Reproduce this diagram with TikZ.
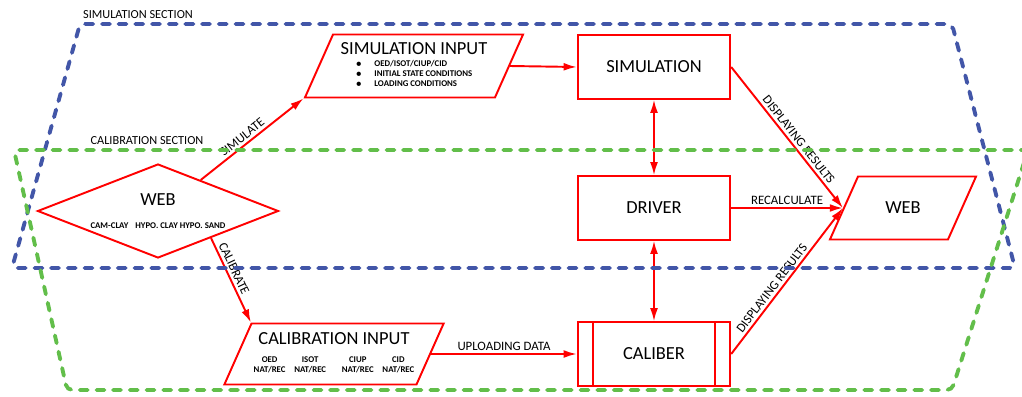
\documentclass[tikz,border=0pt]{standalone}
\usepackage{fontspec}
\setmainfont{Carlito}
\usetikzlibrary{shapes.geometric,arrows.meta}
\definecolor{simblue}{RGB}{66,86,168}
\definecolor{calgreen}{RGB}{98,190,74}
\newcommand{\titlefont}{\fontsize{10.5}{12}\selectfont}
\newcommand{\tinyfont}{\fontsize{5}{5.7}\selectfont\bfseries}
% fixed size text block, so the slanted shapes get their exact height
\newcommand{\slantbox}[3]{\parbox[c][#2][c]{#1}{\centering #3}}
\tikzset{
  box/.style={draw=red,line width=1.1pt,minimum width=3.05cm,minimum height=1.27cm,
    inner sep=0pt,font=\titlefont},
  procbox/.style={box,path picture={
      \draw[red,line width=1.1pt]
        ([xshift=0.3cm]path picture bounding box.north west) -- ([xshift=0.3cm]path picture bounding box.south west)
        ([xshift=-0.3cm]path picture bounding box.north east) -- ([xshift=-0.3cm]path picture bounding box.south east);}},
  slanted/.style={trapezium,trapezium left angle=66,trapezium right angle=114,
    draw=red,line width=1.1pt,inner sep=0pt},
  decision/.style={diamond,aspect=2.56,draw=red,line width=1.1pt,inner sep=0pt,align=center,
    minimum width=4.82cm,minimum height=1.88cm},
  flow/.style={draw=red,line width=1.1pt,-{Latex[length=7.5pt,width=4.5pt]}},
  twoway/.style={flow,{Latex[length=7.5pt,width=4.5pt]}-{Latex[length=7.5pt,width=4.5pt]}},
  edgetext/.style={font=\fontsize{7.3}{8}\selectfont,inner sep=1.5pt},
  zone/.style={line width=2.2pt,line cap=round,dash pattern=on 4.5pt off 5pt,rounded corners=3pt},
  zonetext/.style={font=\fontsize{7}{8}\selectfont,inner sep=0pt}
}
\begin{document}
\begin{tikzpicture}[x=0.02cm,y=-0.02cm]
  \useasboundingbox (0,0) rectangle (1022,396);
  \node[decision] (web) at (158,211)
    {{\titlefont WEB}\\[1pt]{\tinyfont CAM-CLAY\hspace{4pt}HYPO. CLAY HYPO. SAND}};
  \node[slanted] (siminput) at (414,66)
    {\slantbox{3.24cm}{1.26cm}{{\titlefont SIMULATION INPUT}\\[1pt]
     {\tinyfont\begin{tabular}{@{}l@{}}
       {\tiny$\bullet$}\hspace{7pt}OED/ISOT/CIUP/CID\\
       {\tiny$\bullet$}\hspace{7pt}INITIAL STATE CONDITIONS\\
       {\tiny$\bullet$}\hspace{7pt}LOADING CONDITIONS
     \end{tabular}}}};
  \node[slanted] (calinput) at (334,354)
    {\slantbox{3.3cm}{1.22cm}{{\titlefont CALIBRATION INPUT}\\[1pt]
     {\tinyfont\begin{tabular}{@{}c@{\hspace{5pt}}c@{\hspace{9pt}}c@{\hspace{5pt}}c@{}}
       OED&ISOT&CIUP&CID\\
       NAT/REC&NAT/REC&NAT/REC&NAT/REC
     \end{tabular}}}};
  \node[box] (simulation) at (654,67) {SIMULATION};
  \node[box] (driver) at (654,208) {DRIVER};
  \node[procbox] (caliber) at (654,354) {CALIBER};
  \node[slanted] (webout) at (903,208) {\slantbox{1.8cm}{1.26cm}{\titlefont WEB}};

  \begin{scope}[flow]
    \draw (web.36) to node[edgetext,sloped,above,pos=.45] {SIMULATE} (siminput.bottom left corner);
    \draw (web.-27) to node[edgetext,sloped,above,pos=.4] {CALIBRATE} (calinput.top left corner);
    \draw (siminput.east) to (simulation.west);
    \draw (calinput.east) to node[edgetext,above] {UPLOADING DATA} (caliber.west);
    \draw[twoway] (simulation.south) to (driver.north);
    \draw[twoway] (driver.south) to (caliber.north);
    \draw (simulation.east) to node[edgetext,sloped,above,pos=.55] {DISPLAYING RESULTS} (webout.west);
    \draw (driver.east) to node[edgetext,above] {RECALCULATE} (webout.west);
    \draw (caliber.east) to node[edgetext,sloped,above,pos=.42] {DISPLAYING RESULTS} (webout.west);
  \end{scope}

  \draw[zone,simblue] (80,24) -- (952,24) -- (1015,268) -- (12,268) -- cycle;
  \draw[zone,calgreen] (14,150) -- (1028,150) -- (952,390) -- (67,390) -- cycle;
  \node[zonetext] (simzone) at (138,15) {SIMULATION SECTION};
  \node[zonetext] (calzone) at (147,141) {CALIBRATION SECTION};
\end{tikzpicture}
\end{document}
